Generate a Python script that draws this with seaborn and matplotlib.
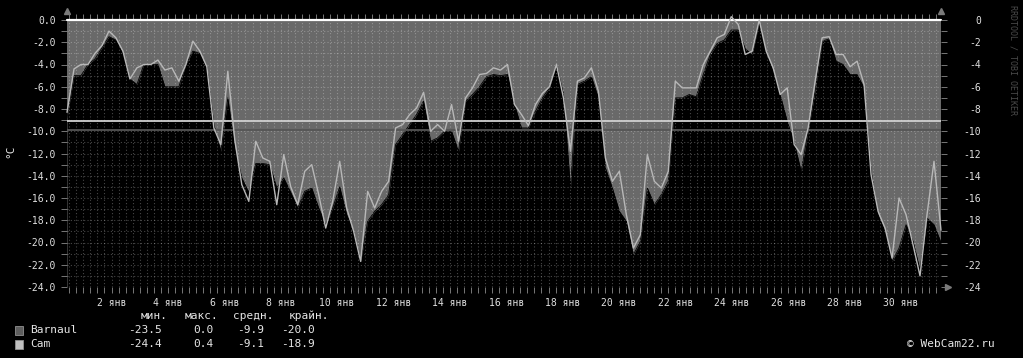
import numpy as np
import pandas as pd
import matplotlib
matplotlib.use("Agg")
import matplotlib.pyplot as plt
from matplotlib.patches import Rectangle
import seaborn as sns

# ---- data (6-hourly readings over the 31-day window) ----
cam = [-8.3, -4.4, -4.0, -4.0, -3.0, -2.3, -1.0, -1.6, -2.8, -5.3,
       -4.3, -4.0, -4.0, -3.6, -4.5, -4.3, -5.5, -4.0, -1.9, -2.8,
       -4.2, -9.7, -11.2, -4.6, -10.8, -14.8, -16.3, -10.9, -12.4, -12.7,
       -16.6, -12.1, -15.0, -16.6, -13.6, -13.0, -15.7, -18.7, -16.3, -12.7,
       -16.9, -19.0, -21.7, -15.4, -16.9, -15.4, -14.5, -9.7, -9.4, -8.5,
       -7.9, -6.5, -10.0, -9.4, -10.0, -7.6, -10.9, -7.0, -6.1, -4.9,
       -4.8, -4.3, -4.5, -4.0, -7.6, -8.5, -9.5, -7.6, -6.6, -6.0,
       -4.0, -7.0, -11.8, -5.5, -5.2, -4.3, -6.4, -12.4, -14.5, -13.6,
       -17.5, -20.5, -19.3, -12.1, -14.5, -15.1, -13.6, -5.5, -6.1, -6.1,
       -6.1, -4.0, -2.8, -1.6, -1.3, 0.3, -0.4, -3.1, -2.8, 0.0,
       -2.8, -4.3, -6.7, -6.1, -11.2, -12.1, -9.7, -5.5, -1.6, -1.5,
       -3.1, -3.1, -4.2, -3.7, -5.8, -13.9, -17.2, -18.7, -21.4, -16.0,
       -17.5, -20.2, -23.0, -17.5, -12.7, -18.9]
barnaul = [-8.8, -5.0, -5.0, -4.0, -3.5, -2.5, -1.5, -1.8, -3.0, -5.3,
           -5.8, -4.0, -4.0, -4.0, -6.0, -6.0, -6.0, -4.0, -2.8, -3.0,
           -4.2, -9.4, -11.8, -7.0, -11.5, -14.2, -15.5, -12.9, -12.9, -13.0,
           -15.1, -14.2, -15.5, -16.9, -15.4, -15.1, -16.9, -18.4, -16.9, -15.0,
           -17.5, -19.0, -21.7, -18.1, -17.2, -16.6, -15.7, -11.2, -10.3, -9.4,
           -8.5, -7.3, -10.9, -10.6, -10.0, -10.0, -11.8, -7.3, -6.7, -6.0,
           -5.1, -4.9, -5.0, -4.9, -7.6, -9.7, -9.7, -8.2, -7.0, -6.1,
           -4.0, -6.7, -15.1, -5.8, -5.5, -5.1, -7.0, -13.3, -15.1, -17.2,
           -18.1, -21.1, -19.9, -15.1, -16.6, -15.7, -14.5, -7.0, -7.0, -6.7,
           -6.9, -4.9, -3.1, -2.1, -1.8, -0.9, -0.9, -2.6, -3.1, -0.2,
           -3.0, -4.6, -6.7, -9.1, -11.0, -13.6, -10.0, -6.4, -1.9, -1.7,
           -3.7, -4.0, -4.9, -4.9, -6.1, -13.6, -17.5, -19.0, -21.7, -20.5,
           -18.4, -19.9, -22.5, -17.8, -18.4, -20.0]
day_labels = ["2 янв", "4 янв", "6 янв", "8 янв", "10 янв", "12 янв", "14 янв",
              "16 янв", "18 янв", "20 янв", "22 янв", "24 янв", "26 янв",
              "28 янв", "30 янв"]
y_ticks = [0, -2, -4, -6, -8, -10, -12, -14, -16, -18, -20, -22, -24]
series_names = ["Barnaul", "Cam"]
stat_min = [-23.5, -24.4]
stat_max = [0.0, 0.4]
stat_avg = [-9.9, -9.1]
stat_last = [-20.0, -18.9]

sns.set_theme(style="dark")
plt.rcParams['font.family'] = ['DejaVu Sans Mono', 'DejaVu Sans']

W, H = 1023, 358
n = len(cam)
days = np.linspace(0, 31, n)
df = pd.DataFrame({"day": days, "Cam": cam, "Barnaul": barnaul})

fig = plt.figure(figsize=(W / 100, H / 100), dpi=100, facecolor='black')
ax = fig.add_axes([67 / W, 1 - 287 / H, 874 / W, 267 / H])
ax.set_facecolor('#696969')

ax.fill_between(df["day"], df["Barnaul"], -24, color='black', lw=0, zorder=1)
sns.lineplot(data=df, x='day', y='Barnaul', color='black', lw=0.6, ax=ax, zorder=1.5)

ax.set_xlim(0, 31)
ax.set_ylim(-24, 0)

first_label = 1.58
ax.set_xticks([first_label + 2 * i for i in range(len(day_labels))])
ax.set_xticklabels(day_labels)
ax.set_xticks(np.arange(first_label % 0.25, 31, 0.25), minor=True)
ax.set_yticks(y_ticks)
ax.set_yticklabels([f"{v:.1f}" for v in y_ticks])
ax.set_yticks(np.arange(-24, 1, 1), minor=True)
ax.set_axisbelow(False)
ax.grid(which='both', color='white', alpha=0.28, linestyle=(0, (1, 2)), lw=0.8)

ax.axhline(stat_avg[0], color='#555555', lw=1.3, zorder=3)
ax.axhline(stat_avg[1], color='#d0d0d0', lw=1.3, zorder=3)
ax.axhline(0, color='white', lw=1.6, zorder=4, clip_on=False)

sns.lineplot(data=df, x='day', y='Cam', color='#b8b8b8', lw=1.0, ax=ax, zorder=5)
for ln in ax.lines[-1:]:
    ln.set_clip_on(False)

ax.set_xlabel("")
ax.set_ylabel("")
for s in ax.spines.values():
    s.set_visible(False)

tick_col = '#e0e0e0'
ax.tick_params(axis='x', which='both', colors='#777777', labelcolor=tick_col,
               labelsize=7, direction='out', length=4, width=0.7, top=True, bottom=True, pad=4)
ax.tick_params(axis='y', which='both', colors='#777777', labelcolor=tick_col,
               labelsize=7, direction='out', length=4, width=0.7, left=True, pad=4)

ax2 = ax.twinx()
ax2.set_ylim(-24, 0)
ax2.set_yticks(y_ticks)
ax2.set_yticklabels([f"{v:d}" for v in y_ticks], ha='right')
ax2.set_yticks(np.arange(-24, 1, 1), minor=True)
ax2.tick_params(axis='y', which='both', colors='#777777', labelcolor=tick_col,
                labelsize=7, direction='out', length=4, width=0.7, pad=25)
ax2.grid(False)
for s in ax2.spines.values():
    s.set_visible(False)

# arrows
ax.plot([0], [1.035], marker='^', ms=5, color='#7a7a7a', transform=ax.transAxes, clip_on=False)
ax.plot([1], [1.035], marker='^', ms=5, color='#7a7a7a', transform=ax.transAxes, clip_on=False)
ax.plot([1.008], [0], marker='>', ms=5, color='#7a7a7a', transform=ax.transAxes, clip_on=False)


def fx(x):
    return x / W


def fy(y):
    return 1 - y / H


txt = dict(color='#e6e6e6', fontsize=8, va='center')
fig.text(fx(10), fy(151), "°C", rotation=90, ha='center', **txt)
fig.text(fx(1013), fy(60), "RRDTOOL / TOBI OETIKER", rotation=270, color='#4a4a4a',
         fontsize=6, ha='center', va='center')
heads = ["мин.", "макс.", "средн.", "крайн."]
head_right = [168, 218, 273, 329]
for h, r in zip(heads, head_right):
    fig.text(fx(r), fy(316), h, ha='right', **txt)
val_right = [162, 213, 264, 315]
sq_cols = ['#5e5e5e', '#c0c0c0']
for i, name in enumerate(series_names):
    yy = 330 + 14 * i
    fig.patches.append(Rectangle((fx(15), fy(yy + 4.5)), 8 / W, 9 / H, transform=fig.transFigure,
                                 facecolor=sq_cols[i], edgecolor='#909090', lw=0.6))
    fig.text(fx(30), fy(yy), name, ha='left', **txt)
    vals = [stat_min[i], stat_max[i], stat_avg[i], stat_last[i]]
    for v, r in zip(vals, val_right):
        fig.text(fx(r), fy(yy), f"{v:.1f}", ha='right', **txt)
fig.text(fx(995), fy(344), "© WebCam22.ru", ha='right', **txt)

fig.savefig("out.png", dpi=100, facecolor='black')
